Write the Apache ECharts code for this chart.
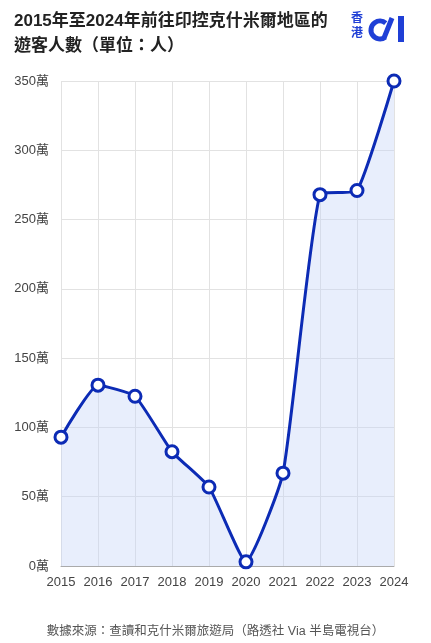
<!DOCTYPE html>
<html>
<head>
<meta charset="utf-8">
<script src="https://cdn.jsdelivr.net/npm/echarts@6/dist/echarts.min.js"></script>
<style>
html, body { margin: 0; padding: 0; background: #fff; }
#main { width: 431px; height: 643px; }
</style>
</head>
<body>
<div id="main"></div>
<script>
// 年份
var years = ['2015', '2016', '2017', '2018', '2019', '2020', '2021', '2022', '2023', '2024'];
// 遊客人數（萬）
var visitors = [93, 130.5, 122.5, 82.5, 57, 3, 67, 268, 271, 350];
var yTicks = [0, 50, 100, 150, 200, 250, 300, 350];

var font = '"Liberation Sans", "Noto Sans CJK TC", sans-serif';
var blue = '#0c2bb5';
var logoBlue = '#1f3fd6';

var chart = echarts.init(document.getElementById('main'));
var option = {
    animation: false,
    textStyle: { fontFamily: font },
    title: {
        text: '2015年至2024年前往印控克什米爾地區的\n遊客人數（單位：人）',
        left: 9,
        top: 4,
        textStyle: {
            fontSize: 17,
            fontWeight: 'bold',
            color: '#222',
            lineHeight: 25,
            fontFamily: font
        }
    },
    graphic: [
        { type: 'text', left: 351, top: 13, style: { text: '香', fill: logoBlue, font: 'bold 12px ' + font } },
        { type: 'text', left: 351, top: 28, style: { text: '港', fill: logoBlue, font: 'bold 12px ' + font } },
        {
            type: 'arc',
            shape: { cx: 380, cy: 30, r: 9, startAngle: Math.PI * 0.3, endAngle: Math.PI * 1.72 },
            style: { stroke: logoBlue, lineWidth: 5, fill: null }
        },
        {
            type: 'line',
            shape: { x1: 384, y1: 38, x2: 392, y2: 18 },
            style: { stroke: logoBlue, lineWidth: 5 }
        },
        {
            type: 'rect',
            shape: { x: 398, y: 16, width: 6, height: 26 },
            style: { fill: logoBlue }
        },
        {
            type: 'text',
            left: 'center',
            top: 625,
            style: { text: '數據來源：查讀和克什米爾旅遊局（路透社 Via 半島電視台）', fill: '#555', font: '12.5px ' + font }
        }
    ],
    grid: { left: 61, right: 37, top: 81, bottom: 77 },
    xAxis: {
        type: 'category',
        data: years,
        boundaryGap: false,
        axisLine: { lineStyle: { color: '#aaa' } },
        axisTick: { show: false },
        axisLabel: { color: '#444', fontSize: 13, margin: 10, interval: 0, fontFamily: font },
        splitLine: { show: true, interval: 0, lineStyle: { color: '#e2e2e2' } }
    },
    yAxis: {
        type: 'value',
        min: 0,
        max: 350,
        interval: 50,
        axisLine: { show: false },
        axisTick: { show: false },
        axisLabel: {
            color: '#444',
            fontSize: 13,
            margin: 12,
            fontFamily: font,
            formatter: function (v) { return yTicks.indexOf(v) >= 0 ? v + '萬' : ''; }
        },
        splitLine: { lineStyle: { color: '#e2e2e2' } }
    },
    series: [{
        type: 'line',
        data: visitors,
        smooth: 0.15,
        symbol: 'circle',
        symbolSize: 12,
        lineStyle: { color: blue, width: 3 },
        itemStyle: { color: '#fff', borderColor: blue, borderWidth: 3 },
        areaStyle: { color: 'rgba(196, 210, 246, 0.55)' },
        z: 3
    }]
};
chart.setOption(option);
</script>
</body>
</html>
